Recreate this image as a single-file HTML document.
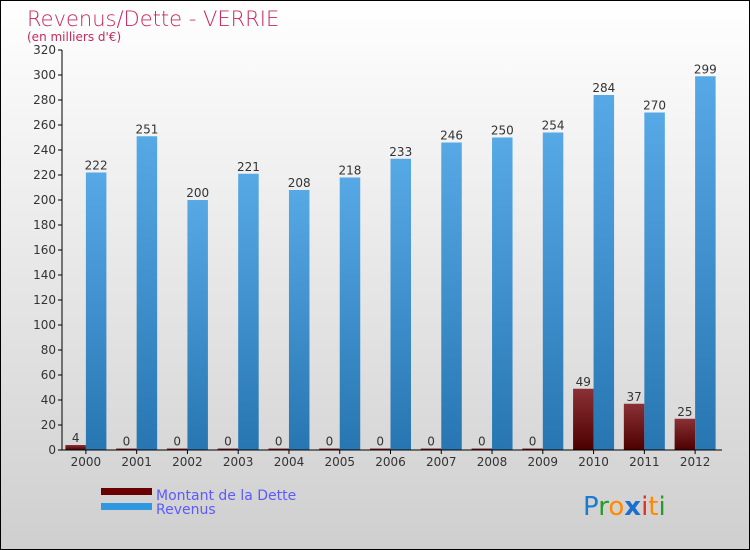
<!DOCTYPE html>
<html><head><meta charset="utf-8"><style>
body{margin:0}
#c{position:relative;width:750px;height:550px;box-sizing:border-box;border:1px solid #000;background:linear-gradient(#ffffff,#cfcfcf);font-family:"DejaVu Sans","Liberation Sans",sans-serif;overflow:hidden}
</style></head><body>
<div id="c">
<svg id="s" width="748" height="548" style="position:absolute;left:0;top:0">
<defs>
<linearGradient id="gb" x1="0" y1="0" x2="0" y2="1"><stop offset="0" stop-color="#57a9e6"/><stop offset="1" stop-color="#2776b2"/></linearGradient>
<linearGradient id="gr" x1="0" y1="0" x2="0" y2="1"><stop offset="0" stop-color="#8a3136"/><stop offset="1" stop-color="#4d0000"/></linearGradient>
</defs>
<text x="26" y="25" font-size="21" fill="#c8275e" font-weight="200">Revenus/Dette - VERRIE</text>
<text x="26" y="40" font-size="12" fill="#c8275e">(en milliers d'€)</text>
<g id="g"></g>
<rect x="100" y="487" width="51" height="7" fill="#6a0000"/>
<rect x="100" y="502" width="51" height="7" fill="#2f98e0"/>
<text x="155" y="499" font-size="14" fill="#5b5bff">Montant de la Dette</text>
<text x="155" y="513" font-size="14" fill="#5b5bff">Revenus</text>
<g font-size="26" font-family="'DejaVu Sans',sans-serif">
<text x="582" y="514"><tspan fill="#1a7bd0">P</tspan><tspan fill="#2a9a2a">r</tspan><tspan fill="#ff8a00">o</tspan><tspan fill="#1a6fd0" font-weight="bold">x</tspan><tspan fill="#e03020">i</tspan><tspan fill="#ff8a00">t</tspan><tspan fill="#2a9a2a">i</tspan></text>
</g>
</svg>
</div>
<script>
const years=["2000","2001","2002","2003","2004","2005","2006","2007","2008","2009","2010","2011","2012"];
const dette=[4,0,0,0,0,0,0,0,0,0,49,37,25];
const revenus=[222,251,200,221,208,218,233,246,250,254,284,270,299];
const yTicks=[0,20,40,60,80,100,120,140,160,180,200,220,240,260,280,300,320];
const NS="http://www.w3.org/2000/svg";
const g=document.getElementById('g');
const x0=61,x1=721,yB=449,yT=49,yMax=320;
const band=(x1-x0)/years.length;
const y=v=>yB-(v/yMax)*(yB-yT);
const cx=i=>x0+band*(i+0.5)-1.5;
function mk(t,a){const e=document.createElementNS(NS,t);for(const k in a)e.setAttribute(k,a[k]);g.appendChild(e);return e;}
yTicks.forEach(v=>{
 const t=mk('line',{x1:x0-4,x2:x0,y1:y(v),y2:y(v),stroke:'#000'});
 
 
 const l=mk('text',{x:x0-6,y:y(v)+4,'font-size':12,'text-anchor':'end',fill:'#333'});
 l.textContent=v;
 
 
});
years.forEach((yr,i)=>{
 const c=cx(i),w=20.5;
 const hd=Math.max(yB-y(dette[i]),1.5);
 const bd=mk('rect',{x:c-w,y:yB-hd,width:w,height:hd,fill:'url(#gr)'});
 
 
 const br=mk('rect',{x:c,y:y(revenus[i]),width:w,height:yB-y(revenus[i]),fill:'url(#gb)'});
 
 
 const ld=mk('text',{x:c-w/2,y:yB-hd-3,'font-size':12,'text-anchor':'middle',fill:'#333'});
 ld.textContent=dette[i];
 
 
 const lr=mk('text',{x:c+w/2,y:y(revenus[i])-3,'font-size':12,'text-anchor':'middle',fill:'#333'});
 lr.textContent=revenus[i];
 
 
 const t=mk('line',{x1:c,x2:c,y1:yB,y2:yB+4,stroke:'#000'});
 
 
 const xl=mk('text',{x:c,y:yB+16,'font-size':12,'text-anchor':'middle',fill:'#333'});
 xl.textContent=yr;
 
 
});
const ya=mk('line',{x1:x0,x2:x0,y1:yT,y2:yB,stroke:'#000'});


const xa=mk('line',{x1:x0,x2:x1,y1:yB,y2:yB,stroke:'#000'});


</script>
</body></html>
